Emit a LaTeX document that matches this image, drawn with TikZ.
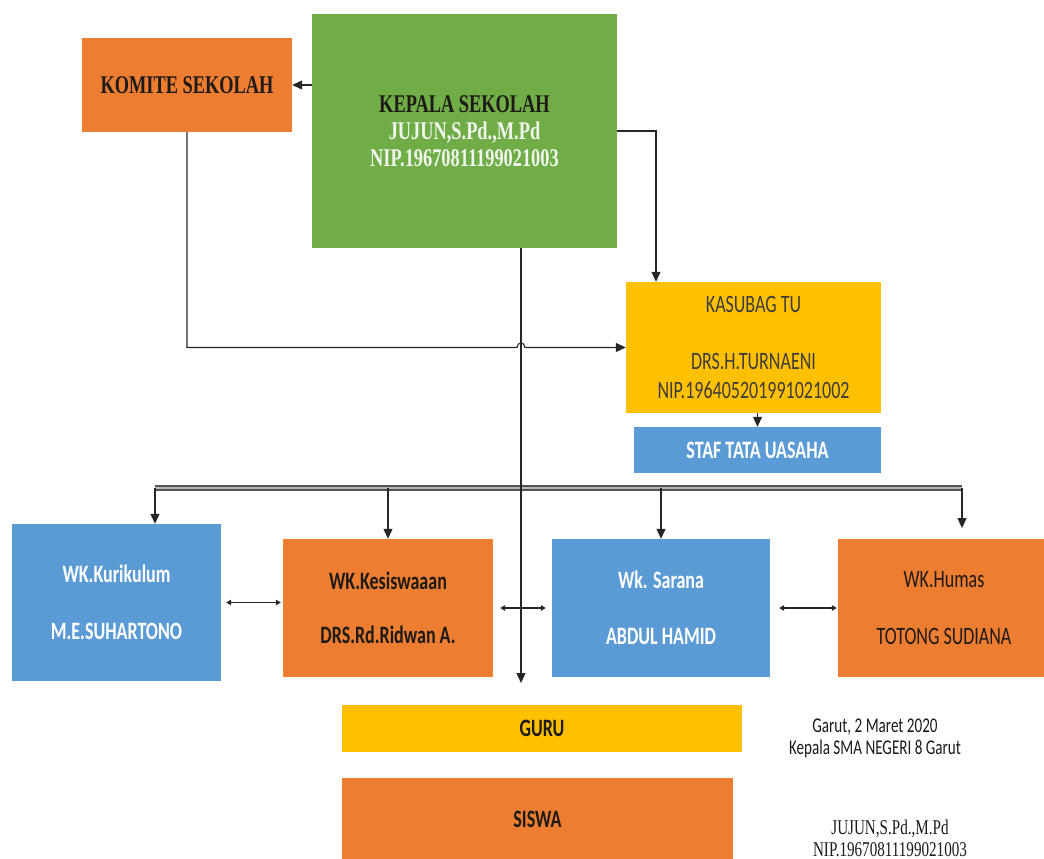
\documentclass[tikz,border=0pt]{standalone}
\usepackage{fontspec}
\setmainfont{Liberation Serif}[FakeStretch=0.72]
\newfontfamily\calfont{Carlito}[FakeStretch=0.72]
\usetikzlibrary{arrows.meta}
\definecolor{orgC}{HTML}{ED7D31}
\definecolor{grnC}{HTML}{70AD47}
\definecolor{yelC}{HTML}{FFC000}
\definecolor{bluC}{HTML}{5B9BD5}
\definecolor{lineC}{HTML}{262626}
\definecolor{darkT}{HTML}{1E1A16}
\definecolor{lightT}{HTML}{F2F5EE}
\tikzset{
  box/.style={inner sep=0pt, align=center, text=darkT},
  serifbig/.style={font=\fontsize{25.5}{27}\selectfont\bfseries},
  calbox/.style={font=\calfont\fontsize{25}{28.5}\selectfont},
  calbold/.style={font=\calfont\fontsize{25}{28.5}\selectfont\bfseries},
  arr/.style={draw=lineC, line width=1.1pt, -{Triangle[length=10pt,width=9pt]}},
  biarr/.style={draw=lineC, line width=1.1pt, {Triangle[length=5pt,width=5.5pt]}-{Triangle[length=5pt,width=5.5pt]}},
  dbl/.style={draw=gray!65!black, line width=1.7pt, double=gray!55, double distance=1.7pt}
}
\begin{document}
\begin{tikzpicture}[x=1pt,y=-1pt]
\clip (0,0) rectangle (1044,859);
\fill[white] (0,0) rectangle (1044,859);

% boxes
\node[box, serifbig, fill=grnC, minimum width=305, minimum height=234] (kepala) at (464.5,131)
  {KEPALA SEKOLAH\\ \textcolor{lightT}{JUJUN,S.Pd.,M.Pd}\\ \textcolor{lightT}{NIP.19670811199021003}};
\node[box, serifbig, fill=orgC, minimum width=210, minimum height=94] (komite) at (187,85) {KOMITE SEKOLAH};
\node[box, calbox, fill=yelC, minimum width=255, minimum height=131, text=darkT!85] (kasubag) at (753.5,347.5)
  {KASUBAG TU\\[28.5pt] DRS.H.TURNAENI\\ NIP.196405201991021002};
\node[box, calbold, fill=bluC, minimum width=247, minimum height=46, text=white] (staf) at (757.5,450) {STAF TATA UASAHA};

\node[box, calbold, fill=bluC, minimum width=209, minimum height=157, text=white] (kurikulum) at (116.5,602.5)
  {WK.Kurikulum\\[28.5pt] M.E.SUHARTONO};
\node[box, calbold, fill=orgC, minimum width=210, minimum height=138] (kesiswaan) at (388,608)
  {WK.Kesiswaaan\\[26pt] DRS.Rd.Ridwan A.};
\node[box, calbold, fill=bluC, minimum width=218, minimum height=138, text=white] (sarana) at (661,608)
  {Wk. Sarana\\[28pt] ABDUL HAMID};
\node[box, calbox, fill=orgC, minimum width=212, minimum height=138] (humas) at (944,608)
  {WK.Humas\\[28pt] TOTONG SUDIANA};

\node[box, calbold, fill=yelC, minimum width=400, minimum height=47] (guru) at (542,728.5) {GURU};
\node[box, calbold, fill=orgC, minimum width=391, minimum height=82] (siswa) at (537.5,819) {SISWA};

% signature
\node[box, font=\calfont\fontsize{21}{22}\selectfont, text=darkT] (tgl) at (875,738)
  {Garut, 2 Maret 2020\\ Kepala SMA NEGERI 8 Garut};
\node[box, font=\fontsize{21}{22}\selectfont, text=darkT] (ttd) at (890,838)
  {JUJUN,S.Pd.,M.Pd\\ NIP.19670811199021003};

% coordinates
\coordinate (kv) at (521,683);
\coordinate (kr) at (656,0);
\coordinate (hL) at (155,488);
\coordinate (hR) at (962,488);
\coordinate (hEnd) at (962,528);

% connectors
\draw[arr] (komite.east -| kepala.west) -- (komite.east);
\draw[arr] (kepala.east) -| (kr |- kasubag.north);
\draw[arr] (komite.south) |- (517,347.5) .. controls (517,341.5) and (525,341.5) .. (525,347.5) -- (kasubag.west);
\draw[arr] (kasubag.south -| staf.north) -- (staf.north);

\draw[dbl] (hL) -- (hR);
\draw[arr] (kv |- kepala.south) -- (kv);
\draw[arr] (hL) -- (hL |- kurikulum.north);
\draw[arr] (kesiswaan.north |- hL) -- (kesiswaan.north);
\draw[arr] (sarana.north |- hL) -- (sarana.north);
\draw[arr] (hR) -- (hEnd);

\draw[biarr, shorten <=5pt, shorten >=2pt] (kurikulum.east) -- (kurikulum.east -| kesiswaan.west);
\draw[biarr, shorten <=7pt, shorten >=6pt] (kesiswaan.east) -- (sarana.west);
\draw[biarr, shorten <=9pt, shorten >=1pt] (sarana.east) -- (humas.west);
\end{tikzpicture}
\end{document}
